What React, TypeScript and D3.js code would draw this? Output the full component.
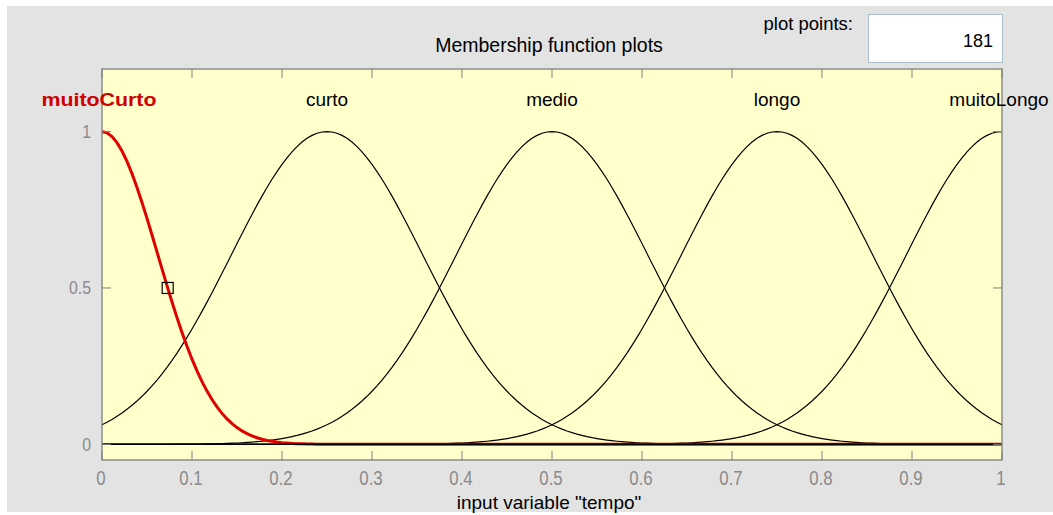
import React from "react";
import * as d3 from "d3";

// Gaussian membership functions of the input variable "tempo"
const mfNames = ["muitoCurto", "curto", "medio", "longo", "muitoLongo"];
const mfSigmas = [0.062, 0.1062, 0.1062, 0.1062, 0.1062];
const mfCenters = [0, 0.25, 0.5, 0.75, 1];
const selectedMf = 0;
const plotPoints = 181;

const xTicks = [0, 0.1, 0.2, 0.3, 0.4, 0.5, 0.6, 0.7, 0.8, 0.9, 1];
const xTickLabels = ["0", "0.1", "0.2", "0.3", "0.4", "0.5", "0.6", "0.7", "0.8", "0.9", "1"];
const yTicks = [0, 0.5, 1];
const yTickLabels = ["0", "0.5", "1"];

const W = 1053;
const H = 515;
const FONT = "'Liberation Sans', Arial, sans-serif";

export default function App() {
  const left = 102, right = 1002, top = 69, bottom = 460;
  const x = d3.scaleLinear().domain([0, 1]).range([left, right]);
  const y = d3.scaleLinear().domain([-0.05, 1.2]).range([bottom, top]);

  const xs = d3.range(plotPoints).map((i) => i / (plotPoints - 1));
  const gauss = (v: number, s: number, c: number) => Math.exp(-((v - c) ** 2) / (2 * s * s));
  const line = d3
    .line<number[]>()
    .x((d) => x(d[0]))
    .y((d) => y(d[1]));

  const curves = mfNames.map((_, i) => xs.map((v) => [v, gauss(v, mfSigmas[i], mfCenters[i])]));

  // point where the selected function reaches 0.5 (marker)
  const markX = mfCenters[selectedMf] + mfSigmas[selectedMf] * Math.sqrt(2 * Math.log(2));

  const tickLen = 9;
  const axisColor = "#7f7f7f";
  const labelColor = "#8a8a8a";

  return (
    <svg
      width={W}
      height={H}
      style={{ position: "absolute", left: 0, top: 0, display: "block" }}
      xmlns="http://www.w3.org/2000/svg"
    >
      <rect x={0} y={0} width={W} height={H} fill="#ffffff" />
      <rect x={7} y={6} width={W - 7} height={H - 9} fill="#e3e3e3" />

      {/* plot points field */}
      <text x={853} y={30} fontFamily={FONT} fontSize={18.5} textAnchor="end" fill="#000">
        plot points:
      </text>
      <rect x={868.5} y={14.5} width={134} height={48} fill="#ffffff" stroke="#a8bccb" strokeWidth={1} />
      <text x={993} y={47} fontFamily={FONT} fontSize={18} textAnchor="end" fill="#000">
        {plotPoints}
      </text>

      {/* title */}
      <text x={549} y={52} fontFamily={FONT} fontSize={19.5} textAnchor="middle" fill="#000">
        Membership function plots
      </text>

      {/* plot area */}
      <rect x={left} y={top} width={right - left} height={bottom - top} fill="#ffffcc" />

      {/* membership curves */}
      {curves.map((pts, i) =>
        i === selectedMf ? null : (
          <path key={i} d={line(pts) || ""} fill="none" stroke="#000" strokeWidth={1.2} />
        )
      )}
      <path d={line(curves[selectedMf]) || ""} fill="none" stroke="#e00000" strokeWidth={3} />
      <line x1={x(0)} x2={x(1)} y1={y(0)} y2={y(0)} stroke="#000" strokeWidth={1.5} />

      {/* selection marker */}
      <rect
        x={x(markX) - 5.5}
        y={y(0.5) - 5.5}
        width={11}
        height={11}
        fill="none"
        stroke="#000"
        strokeWidth={1.2}
      />

      {/* axes box and ticks */}
      <rect
        x={left}
        y={top}
        width={right - left}
        height={bottom - top}
        fill="none"
        stroke={axisColor}
        strokeWidth={1.3}
      />
      {xTicks.map((t, i) => (
        <g key={"xt" + i}>
          <line x1={x(t)} x2={x(t)} y1={bottom} y2={bottom - tickLen} stroke={axisColor} />
          <line x1={x(t)} x2={x(t)} y1={top} y2={top + tickLen} stroke={axisColor} />
          <g transform={`translate(${x(t) - 1},485) scale(0.8,1)`}>
            <text x={0} y={0} fontFamily={FONT} fontSize={21} textAnchor="middle" fill={labelColor}>
              {xTickLabels[i]}
            </text>
          </g>
        </g>
      ))}
      {yTicks.map((t, i) => (
        <g key={"yt" + i}>
          <line x1={left} x2={left + tickLen} y1={y(t)} y2={y(t)} stroke={axisColor} />
          <line x1={right} x2={right - tickLen} y1={y(t)} y2={y(t)} stroke={axisColor} />
          <g transform={`translate(91,${y(t) + 6.5}) scale(0.88,1)`}>
            <text x={0} y={0} fontFamily={FONT} fontSize={18} textAnchor="end" fill={labelColor}>
              {yTickLabels[i]}
            </text>
          </g>
        </g>
      ))}

      {/* function names */}
      {mfNames.map((n, i) =>
        i === selectedMf ? (
          <text
            key={"n" + i}
            x={x(mfCenters[i]) - 3}
            y={106}
            fontFamily={FONT}
            fontSize={19}
            fontWeight="bold"
            textAnchor="middle"
            textLength={115}
            lengthAdjust="spacingAndGlyphs"
            fill="#d00000"
          >
            {n}
          </text>
        ) : (
          <text
            key={"n" + i}
            x={x(mfCenters[i]) - (i === mfNames.length - 1 ? 3 : 0)}
            y={106}
            fontFamily={FONT}
            fontSize={19}
            textAnchor="middle"
            fill="#000"
          >
            {n}
          </text>
        )
      )}

      {/* x label */}
      <text x={549} y={509} fontFamily={FONT} fontSize={19} textAnchor="middle" fill="#000">
        input variable "tempo"
      </text>
    </svg>
  );
}
